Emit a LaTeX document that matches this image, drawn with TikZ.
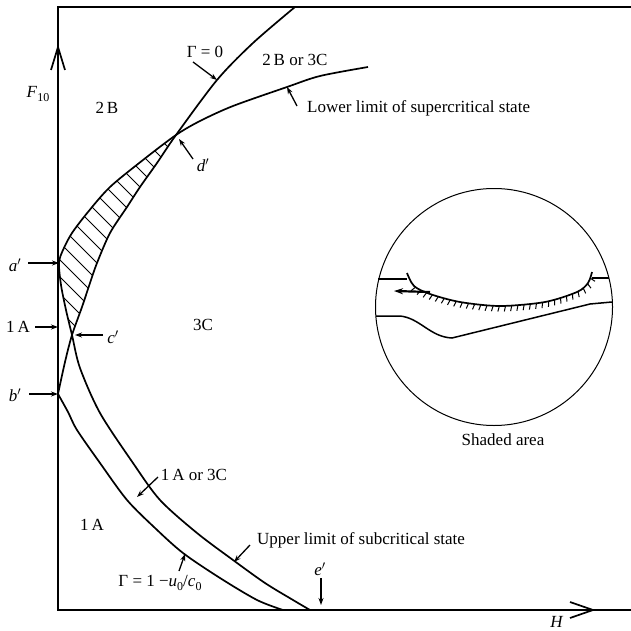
\documentclass[tikz,border=0pt]{standalone}
\usepackage{fontspec}
\setmainfont{Liberation Serif}
\usetikzlibrary{arrows.meta,decorations.markings}
\newcommand\lowsub[1]{\raisebox{-0.45ex}{\fontsize{12}{13}\selectfont #1}}
\begin{document}
\begin{tikzpicture}[x=1pt,y=-1pt,
  curve/.style={line width=1.7pt, line join=round},
  axisline/.style={line width=1.6pt},
  vhead/.style={line width=1.7pt, line join=miter},
  arr/.style={line width=1.3pt,-{Stealth[length=7pt,width=5pt]}},
  lbl/.style={font=\fontsize{17}{19}\selectfont, inner sep=0pt},
  thin/.style={line width=1pt},
  ]
\useasboundingbox (0,0) rectangle (631,631);

% frame and axes
\coordinate (O) at (58,610);
\coordinate (Ytop) at (58,7);
\coordinate (TR) at (631,7);
\coordinate (XR) at (631,610);
\draw[axisline] (XR) -- (O) -- (Ytop) -- (TR);
\coordinate (ytip) at (58,47);
\coordinate (yw1) at (51,70);
\coordinate (yw2) at (65,70);
\draw[vhead] (yw1) -- (ytip) -- (yw2);
\coordinate (xtip) at (593,610);
\coordinate (xw1) at (570,602);
\coordinate (xw2) at (570,618);
\draw[vhead] (xw1) -- (xtip) -- (xw2);

% key points
\coordinate (dp) at (176,135);
\coordinate (ap) at (59,263);
\coordinate (cp) at (72,335);
\coordinate (bp) at (58,394);

% hatching of shaded region
\begin{scope}
\clip plot[smooth] coordinates {(176,135) (143,160) (110,187) (88,212) (72,233) (63,250) (59,263) (61,285) (66,310) (72,335)}
  -- plot[smooth] coordinates {(72,335) (82,307) (90,283) (97,263) (110,233) (127,207) (140,187) (157,163) (176,135)} -- cycle;
\foreach \k in {-268,-251,...,45}
  \draw[thin] (\k+100,100) -- (\k+400,400);
\end{scope}

% lower limit of supercritical / upper limit of subcritical
\draw[curve] plot[smooth] coordinates {(368,67) (320,76) (287,87) (233,106) (200,121) (176,135) (143,160) (110,187) (88,212) (72,233) (63,250) (59,263) (61,285) (66,310) (72,335) (80,368) (100,413) (133,463) (160,500) (197,533) (233,560) (265,583) (293,600) (310,610)};
% Gamma = 0
\draw[curve] plot[smooth] coordinates {(295,7) (253,43) (217,80) (176,135) (157,163) (140,187) (127,207) (110,233) (97,263) (90,283) (82,307) (72,335) (65,362) (58,394)};
% Gamma = 1 - u0/c0
\draw[curve] plot[smooth] coordinates {(58,394) (68,412) (77,430) (100,463) (127,500) (155,528) (183,553) (220,578) (257,600) (283,610)};

% region labels
\node[lbl] (r2B) at (107,108) {2\,B};
\node[lbl] (r2B3C) at (295,60) {2\,B or 3C};
\node[lbl] (r3C) at (203,325) {3C};
\node[lbl] (r1A) at (92,525) {1\,A};
\node[lbl] (ylab) at (38,94) {\textit{F}\lowsub{10}};
\node[lbl] (xlab) at (557,622) {\textit{H}};

% labelled arrows
\node[lbl] (g0) at (205,52) {Γ = 0};
\coordinate (g0t) at (193,62);
\coordinate (g0h) at (217,80);
\draw[arr] (g0t) -- (g0h);

\node[lbl, anchor=west] (llim) at (307,108) {Lower limit of supercritical state};
\coordinate (llt) at (297,106);
\coordinate (llh) at (287,87);
\draw[arr] (llt) -- (llh);

\node[lbl] (dlab) at (203,165) {\textit{d}$'$};
\coordinate (dt) at (193,159);
\coordinate (dh) at (179,139);
\draw[arr] (dt) -- (dh);

\node[lbl] (alab) at (15,265) {\textit{a}$'$};
\coordinate (at) at (28,263);
\draw[arr] (at) -- (ap);

\node[lbl] (oneA) at (18,327) {1\,A};
\coordinate (oneAt) at (35,327);
\coordinate (oneAh) at (58,327);
\draw[arr] (oneAt) -- (oneAh);

\node[lbl] (clab) at (113,337) {\textit{c}$'$};
\coordinate (ct) at (103,335);
\coordinate (ch) at (75,335);
\draw[arr] (ct) -- (ch);

\node[lbl] (blab) at (15,395) {\textit{b}$'$};
\coordinate (bt) at (29,394);
\draw[arr] (bt) -- (bp);

\node[lbl] (or13) at (194,475) {1\,A or 3C};
\coordinate (or13t) at (158,477);
\coordinate (or13h) at (137,497);
\draw[arr] (or13t) -- (or13h);

\node[lbl, anchor=west] (ulim) at (257,540) {Upper limit of subcritical state};
\coordinate (ult) at (250,545);
\coordinate (ulh) at (234,562);
\draw[arr] (ult) -- (ulh);

\node[lbl] (g1) at (160,583) {Γ = 1 −\textit{u}\lowsub{0}/\textit{c}\lowsub{0}};
\coordinate (g1t) at (179,571);
\coordinate (g1h) at (185,554);
\draw[arr] (g1t) -- (g1h);

\node[lbl] (elab) at (320,569) {\textit{e}$'$};
\coordinate (et) at (321,578);
\coordinate (eh) at (321,605);
\draw[arr] (et) -- (eh);

% inset circle
\node[draw, circle, line width=1pt, minimum size=237pt, inner sep=0pt] (inset) at (494,307) {};
\node[lbl] (shaded) at (503,440) {Shaded area};
\draw[line width=1.3pt] (378,279) -- (407,279);
\draw[line width=1.3pt] (592,278) -- (609,278);
\draw[line width=1.7pt,
  postaction={decorate, decoration={markings,
    mark=between positions 0.08 and 0.97 step 6.2pt with {\draw[line width=1pt] (0pt,0pt) -- (-1.5pt,-5.5pt);}}}]
  plot[smooth] coordinates {(407,273) (414,286) (430,294) (460,302) (500,306) (545,302) (577,292) (588,283) (592,272)};
\coordinate (fat) at (430,292);
\coordinate (fah) at (394,291);
\draw[line width=2.2pt,-{Stealth[length=9pt,width=6pt]}] (fat) -- (fah);
\draw[line width=1.5pt] (376,316) -- (400,316) .. controls (420,318) and (430,337) .. (452,338) -- (590,304) -- (612,302);
\end{tikzpicture}
\end{document}
